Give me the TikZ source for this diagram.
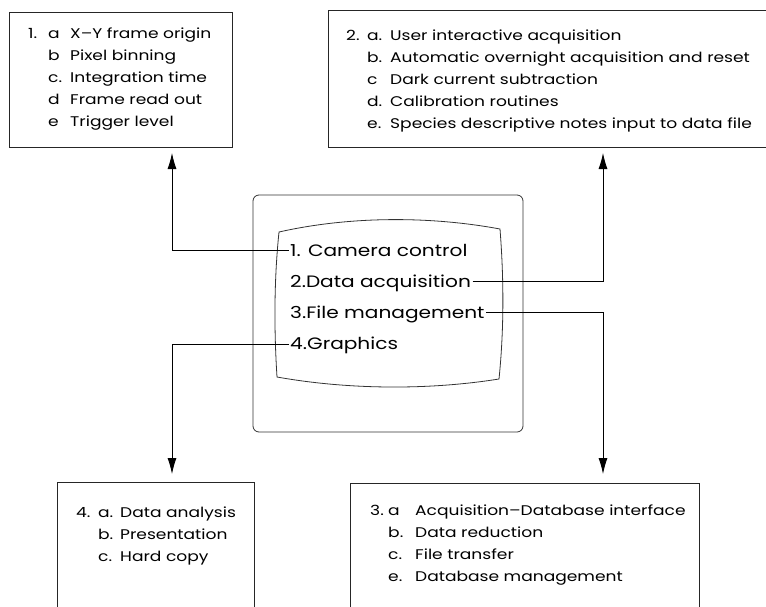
\documentclass[tikz,border=0pt]{standalone}
\usepackage{fontspec}
\setmainfont[FakeStretch=1.22]{Poppins}
\usetikzlibrary{arrows.meta}

\tikzset{
  box/.style={draw=black!85, line width=0.9pt, inner sep=0pt},
  menu/.style={anchor=base west, inner sep=1.5pt, text height=12pt, text depth=0pt,
    font=\fontsize{16.5}{31}\selectfont},
  list/.style={anchor=base west, inner sep=0pt, font=\fontsize{14}{22}\selectfont},
  link/.style={line width=0.8pt, -{Latex[length=16pt,width=9pt]}}
}

\begin{document}
\begin{tikzpicture}[x=1pt,y=-1pt]
    \useasboundingbox (0,0) rectangle (766,606);
    \clip (0,0) rectangle (766,606);% boxes 2, 3 and 4 run off the page
    \coordinate (In1) at (172,153);% arrow tips under / over the boxes
    \coordinate (In2) at (603,153);
    \coordinate (In3) at (603,474);
    \coordinate (In4) at (172,474);
    % the four option boxes
    \node[box, minimum width=223, minimum height=135] (box1) at (120.5,79.5) {};
    \node[box, minimum width=452, minimum height=137] (box2) at (554,78.5) {};
    \node[box, minimum width=349, minimum height=170] (box3) at (524.5,568) {};
    \node[box, minimum width=197, minimum height=170] (box4) at (155.5,567) {};
    \node[list] (list1) at (28,38) {\begin{tabular}[t]{@{}p{20pt}@{}p{22pt}@{}l@{}}
      1. & a  & X–Y frame origin\\
         & b  & Pixel binning\\
         & c. & Integration time\\
         & d  & Frame read out\\
         & e  & Trigger level
    \end{tabular}};
    \node[list] (list2) at (346,40) {\begin{tabular}[t]{@{}p{21pt}@{}p{23pt}@{}l@{}}
      2. & a. & User interactive acquisition\\
         & b. & Automatic overnight acquisition and reset\\
         & c  & Dark current subtraction\\
         & d. & Calibration routines\\
         & e. & Species descriptive notes input to data file
    \end{tabular}};
    \node[list] (list3) at (370,515) {\begin{tabular}[t]{@{}p{18pt}@{}p{27pt}@{}l@{}}
      3. & a  & Acquisition–Database interface\\
         & b. & Data reduction\\
         & c. & File transfer\\
         & e. & Database management
    \end{tabular}};
    \node[list] (list4) at (76,517) {\begin{tabular}[t]{@{}p{22pt}@{}p{22pt}@{}l@{}}
      4. & a. & Data analysis\\
         & b. & Presentation\\
         & c. & Hard copy
    \end{tabular}};
    % the monitor
    \draw[black!80, line width=0.8pt, rounded corners=6pt] (253,195) rectangle (523,432);
    \draw[black!80, line width=0.8pt] (279,232) .. controls (350,216) and (430,216) .. (500,229)
        .. controls (504,280) and (504,330) .. (499,379)
        .. controls (430,390) and (350,390) .. (277,377)
        .. controls (274,330) and (274,280) .. (279,232) -- cycle;% curved screen
    \foreach \n/\t [count=\i] in {cam/1. Camera control, acq/2.Data acquisition,
                                  fil/3.File management, gra/4.Graphics}{%
        \node[menu] (\n) at (288.5,224.7+31.3*\i) {\t};
    }
    % menu entries to their boxes
    \draw[link] (cam.west) -| (In1);
    \draw[link] (acq.east) -| (In2);
    \draw[link] (fil.east) -| (In3);
    \draw[link] (gra.west) -| (In4);
\end{tikzpicture}
\end{document}
